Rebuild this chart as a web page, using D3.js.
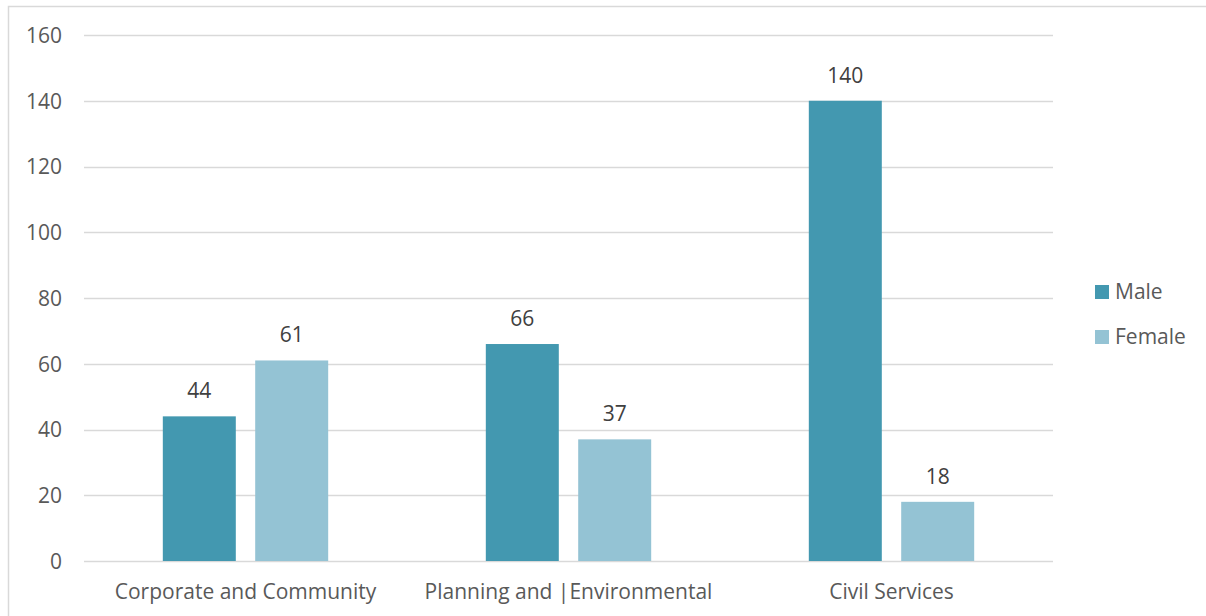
<!DOCTYPE html>
<html>
<head>
<meta charset="utf-8">
<script src="https://cdn.jsdelivr.net/npm/d3@7"></script>
<style>
  body { margin: 0; background: #fff; }
  svg { display: block; }
  text { font-family: "Open Sans", "Noto Sans", sans-serif; }
</style>
</head>
<body>
<script>
// ---- data ----
var categories = ["Corporate and Community", "Planning and |Environmental", "Civil Services"];
var seriesNames = ["Male", "Female"];
var maleValues = [44, 66, 140];
var femaleValues = [61, 37, 18];
var yTicks = [0, 20, 40, 60, 80, 100, 120, 140, 160];

var colors = { "Male": "#4398b0", "Female": "#94c3d4" };

var width = 1206, height = 616;
var plotLeft = 84, plotRight = 1053, plotTop = 35, plotBottom = 561;
var fontSize = "21px";

var svg = d3.select("body").append("svg")
    .attr("width", width)
    .attr("height", height);

// chart border
svg.append("rect")
    .attr("x", 8.5)
    .attr("y", 6.5)
    .attr("width", width + 10)
    .attr("height", height + 10)
    .attr("fill", "none")
    .attr("stroke", "#d9d9d9")
    .attr("stroke-width", 1.5);

// scales
var y = d3.scaleLinear().domain([0, 160]).range([plotBottom, plotTop]);
var x0 = d3.scaleBand().domain(categories).range([plotLeft, plotRight]).padding(0);
var x1 = d3.scaleBand().domain(seriesNames).range([0, x0.bandwidth()])
    .paddingInner(0.21).paddingOuter(0.853);

// gridlines
svg.append("g")
  .selectAll("line")
  .data(yTicks)
  .enter().append("line")
  .attr("x1", plotLeft)
  .attr("x2", plotRight)
  .attr("y1", function(d) { return Math.round(y(d)) + 0.5; })
  .attr("y2", function(d) { return Math.round(y(d)) + 0.5; })
  .attr("stroke", "#d9d9d9")
  .attr("stroke-width", 1.3);

// y axis labels
var yAxis = d3.axisLeft(y).tickValues(yTicks).tickSize(0).tickPadding(0);
var yAxisG = svg.append("g")
    .attr("transform", "translate(62,0)")
    .call(yAxis);
yAxisG.select(".domain").remove();
yAxisG.selectAll("text")
    .attr("dy", "0.35em")
    .style("font-size", fontSize)
    .style("fill", "#595959")
    .style("font-family", "'Open Sans', sans-serif");

// x axis labels
var xAxis = d3.axisBottom(x0).tickSize(0).tickPadding(0);
var xAxisG = svg.append("g")
    .attr("transform", "translate(0," + plotBottom + ")")
    .call(xAxis);
xAxisG.select(".domain").remove();
xAxisG.selectAll("text")
    .attr("dy", 0)
    .attr("y", 38)
    .style("font-size", fontSize)
    .style("fill", "#595959")
    .style("font-family", "'Open Sans', sans-serif");

// bars
var rows = categories.map(function(c, i) {
  return { category: c, values: [
    { name: "Male", value: maleValues[i] },
    { name: "Female", value: femaleValues[i] }
  ]};
});

var groups = svg.append("g")
  .selectAll("g")
  .data(rows)
  .enter().append("g")
  .attr("transform", function(d) { return "translate(" + x0(d.category) + ",0)"; });

groups.selectAll("rect")
  .data(function(d) { return d.values; })
  .enter().append("rect")
  .attr("x", function(d) { return x1(d.name); })
  .attr("y", function(d) { return y(d.value); })
  .attr("width", x1.bandwidth())
  .attr("height", function(d) { return y(0) - y(d.value); })
  .attr("fill", function(d) { return colors[d.name]; });

// data labels
groups.selectAll("text.val")
  .data(function(d) { return d.values; })
  .enter().append("text")
  .attr("class", "val")
  .attr("x", function(d) { return x1(d.name) + x1.bandwidth() / 2; })
  .attr("y", function(d) { return y(d.value) - 18; })
  .attr("text-anchor", "middle")
  .text(function(d) { return d.value; })
  .style("font-size", fontSize)
  .style("fill", "#404040");

// legend
var legend = svg.append("g")
  .selectAll("g")
  .data(seriesNames)
  .enter().append("g")
  .attr("transform", function(d, i) { return "translate(1095," + (285 + i * 45) + ")"; });

legend.append("rect")
  .attr("width", 14)
  .attr("height", 14)
  .attr("fill", function(d) { return colors[d]; });

legend.append("text")
  .attr("x", 20)
  .attr("y", 7)
  .attr("dy", "0.35em")
  .text(function(d) { return d; })
  .style("font-size", fontSize)
  .style("fill", "#595959");
</script>
</body>
</html>
